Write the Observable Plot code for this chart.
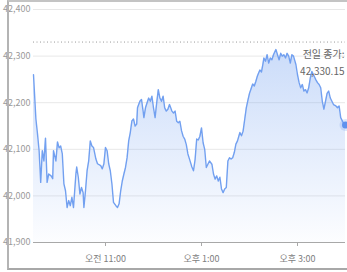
<!DOCTYPE html>
<html>
<head>
<meta charset="utf-8">
<script src="https://cdn.jsdelivr.net/npm/d3@7"></script>
<script src="https://cdn.jsdelivr.net/npm/@observablehq/plot@0.6"></script>
<style>
  html, body { margin: 0; padding: 0; background: #fff; }
  #wrap { position: relative; width: 347px; height: 272px; overflow: hidden; }
  #frame { position: absolute; left: 7px; top: 0; width: 345px; height: 266px;
           border-left: 2px solid #b4b4b4; border-top: 2px solid #c4c4c4; border-bottom: 2px solid #a8a8a8;
           pointer-events: none; }
  svg { display: block; }
</style>
</head>
<body>
<div id="wrap"><div id="chart"></div><div id="frame"></div></div>
<script>
const times = ["09:30","09:33","09:35","09:37","09:39","09:41","09:43","09:45","09:47","09:49","09:52","09:54","09:55","09:58",
"10:00","10:02","10:04","10:06","10:08","10:10","10:12","10:14","10:16","10:18","10:20","10:23","10:24","10:26","10:28","10:30",
"10:32","10:33","10:35","10:37","10:39","10:41","10:43","10:45","10:48","10:50","10:54","10:56","10:58",
"11:00","11:02","11:04","11:06","11:08","11:10","11:13","11:15","11:17","11:19","11:21","11:23","11:25","11:27","11:29","11:31",
"11:33","11:35","11:37","11:39","11:40","11:43","11:45","11:47","11:48","11:50","11:52","11:54","11:56","11:58",
"12:00","12:02","12:04","12:06","12:08","12:10","12:12","12:14","12:16","12:18","12:20","12:23","12:25","12:27","12:29","12:31",
"12:33","12:35","12:37","12:39","12:41","12:43","12:45","12:48","12:50","12:52","12:54","12:56","12:58",
"13:00","13:02","13:04","13:06","13:08","13:10","13:13","13:15","13:17","13:19","13:21","13:23","13:25","13:27","13:29","13:31",
"13:33","13:35","13:37","13:39","13:41","13:43","13:45","13:48","13:50","13:52","13:54","13:56","13:58",
"14:00","14:02","14:04","14:06","14:08","14:10","14:13","14:15","14:17","14:18","14:20","14:22","14:24","14:26","14:28","14:30",
"14:33","14:35","14:37","14:39","14:41","14:43","14:45","14:47","14:49","14:51","14:53","14:55","14:58",
"15:00","15:02","15:04","15:06","15:08","15:10","15:12","15:14","15:16","15:18","15:20","15:23","15:25","15:27","15:29","15:31",
"15:33","15:35","15:37","15:39","15:41","15:43","15:45","15:48","15:50","15:52","15:54","15:56","15:58","16:00"];

const values = [42260,42165,42133,42097,42029,42097,42075,42124,42029,42047,42043,42037,42097,42075,
42116,42103,42107,42090,42026,42011,41975,41990,41979,41997,41975,42047,42062,42040,42004,42018,
42007,41975,42011,42054,42075,42118,42107,42104,42079,42069,42065,42058,42069,
42104,42097,42069,42054,42026,41986,41979,41975,41983,42011,42032,42047,42061,42082,42118,42136,
42161,42165,42150,42154,42189,42203,42207,42182,42168,42189,42200,42210,42203,42214,
42189,42168,42200,42228,42210,42203,42214,42189,42182,42186,42196,42182,42178,42182,42160,42157,
42160,42140,42128,42122,42110,42090,42079,42062,42054,42078,42122,42120,42128,
42146,42114,42100,42061,42068,42075,42068,42047,42036,42043,42032,42040,42015,42007,42015,42018,
42075,42082,42079,42082,42093,42111,42118,42136,42129,42139,42164,42189,42205,
42220,42230,42240,42236,42246,42258,42270,42266,42285,42296,42289,42303,42285,42296,42292,42303,
42314,42303,42292,42306,42300,42303,42296,42306,42300,42285,42303,42300,42282,
42260,42243,42232,42239,42225,42228,42221,42232,42253,42267,42260,42249,42243,42239,42232,42203,
42186,42203,42220,42225,42210,42203,42196,42193,42189,42193,42168,42161,42154,42152];

const prevClose = 42330.15;
const prevCloseLabel = "전일 종가:";
const prevCloseText = "42,330.15";
const yTicks = [41900, 42000, 42100, 42200, 42300, 42400];
const xTickTimes = ["11:00", "13:00", "15:00"];
const xTickLabels = ["오전 11:00", "오후 1:00", "오후 3:00"];
const xStart = "09:30", xEnd = "16:00";

const parse = d3.utcParse("%H:%M");
const fmt = d3.utcFormat("%H:%M");
const data = times.map((t, i) => ({t: parse(t), v: values[i]}));
const last = data[data.length - 1];
const base = yTicks[0];

const lineColor = "#72a0f0";
const narrow = "'Liberation Sans Narrow', 'Arial Narrow', 'Noto Sans CJK KR', sans-serif";

const defs = () => {
  const d = d3.create("svg:defs");
  const g = d.append("linearGradient").attr("id", "areaGrad")
    .attr("x1", 0).attr("y1", 0).attr("x2", 0).attr("y2", 1);
  g.append("stop").attr("offset", "0%").attr("stop-color", "#6f9ef0").attr("stop-opacity", 0.36);
  g.append("stop").attr("offset", "100%").attr("stop-color", "#6f9ef0").attr("stop-opacity", 0.02);
  return d.node();
};

const chart = Plot.plot({
  width: 347,
  height: 272,
  marginLeft: 33,
  marginRight: 2,
  marginTop: 9,
  marginBottom: 30,
  style: {fontFamily: narrow, fontSize: "9px", background: "transparent", overflow: "visible"},
  x: {type: "utc", domain: [parse(xStart), parse(xEnd)], label: null},
  y: {domain: [yTicks[0], yTicks[yTicks.length - 1]], label: null},
  marks: [
    defs,
    Plot.gridY(yTicks.slice(1), {stroke: "#e8e8e8", strokeOpacity: 1, strokeWidth: 1}),
    Plot.areaY(data, {x: "t", y1: base, y2: "v", fill: "url(#areaGrad)", curve: "linear"}),
    Plot.ruleY([prevClose], {stroke: "#9a9a9a", strokeDasharray: "1,2.5", strokeWidth: 1}),
    Plot.lineY(data, {x: "t", y: "v", stroke: lineColor, strokeWidth: 1.4, curve: "linear"}),
    Plot.ruleY([base], {stroke: "#a8a8a8", strokeWidth: 1.2}),
    Plot.axisY(yTicks, {label: null, tickSize: 0, tickPadding: 3, tickFormat: d3.format(","), fill: "#9a9a9a", fontSize: 9, textAnchor: "end"}),
    Plot.axisX(xTickTimes.map(parse), {
      label: null, tickSize: 4, tickPadding: 9, stroke: "#a8a8a8", fill: "#808080",
      fontSize: 9,
      tickFormat: d => xTickLabels[xTickTimes.indexOf(fmt(d))]
    }),
    Plot.text([prevCloseLabel], {frameAnchor: "top-right", dx: -1, dy: 41, text: d => d, fill: "#666", fontSize: 10, textAnchor: "end"}),
    Plot.text([prevCloseText], {frameAnchor: "top-right", dx: -1, dy: 58, text: d => d, fill: "#666", fontSize: 10, textAnchor: "end"}),
    Plot.dot([last], {x: "t", y: "v", r: 6, fill: lineColor, fillOpacity: 0.25}),
    Plot.dot([last], {x: "t", y: "v", r: 3.5, fill: "#5f92ee"})
  ]
});
document.getElementById("chart").append(chart);
</script>
</body>
</html>
